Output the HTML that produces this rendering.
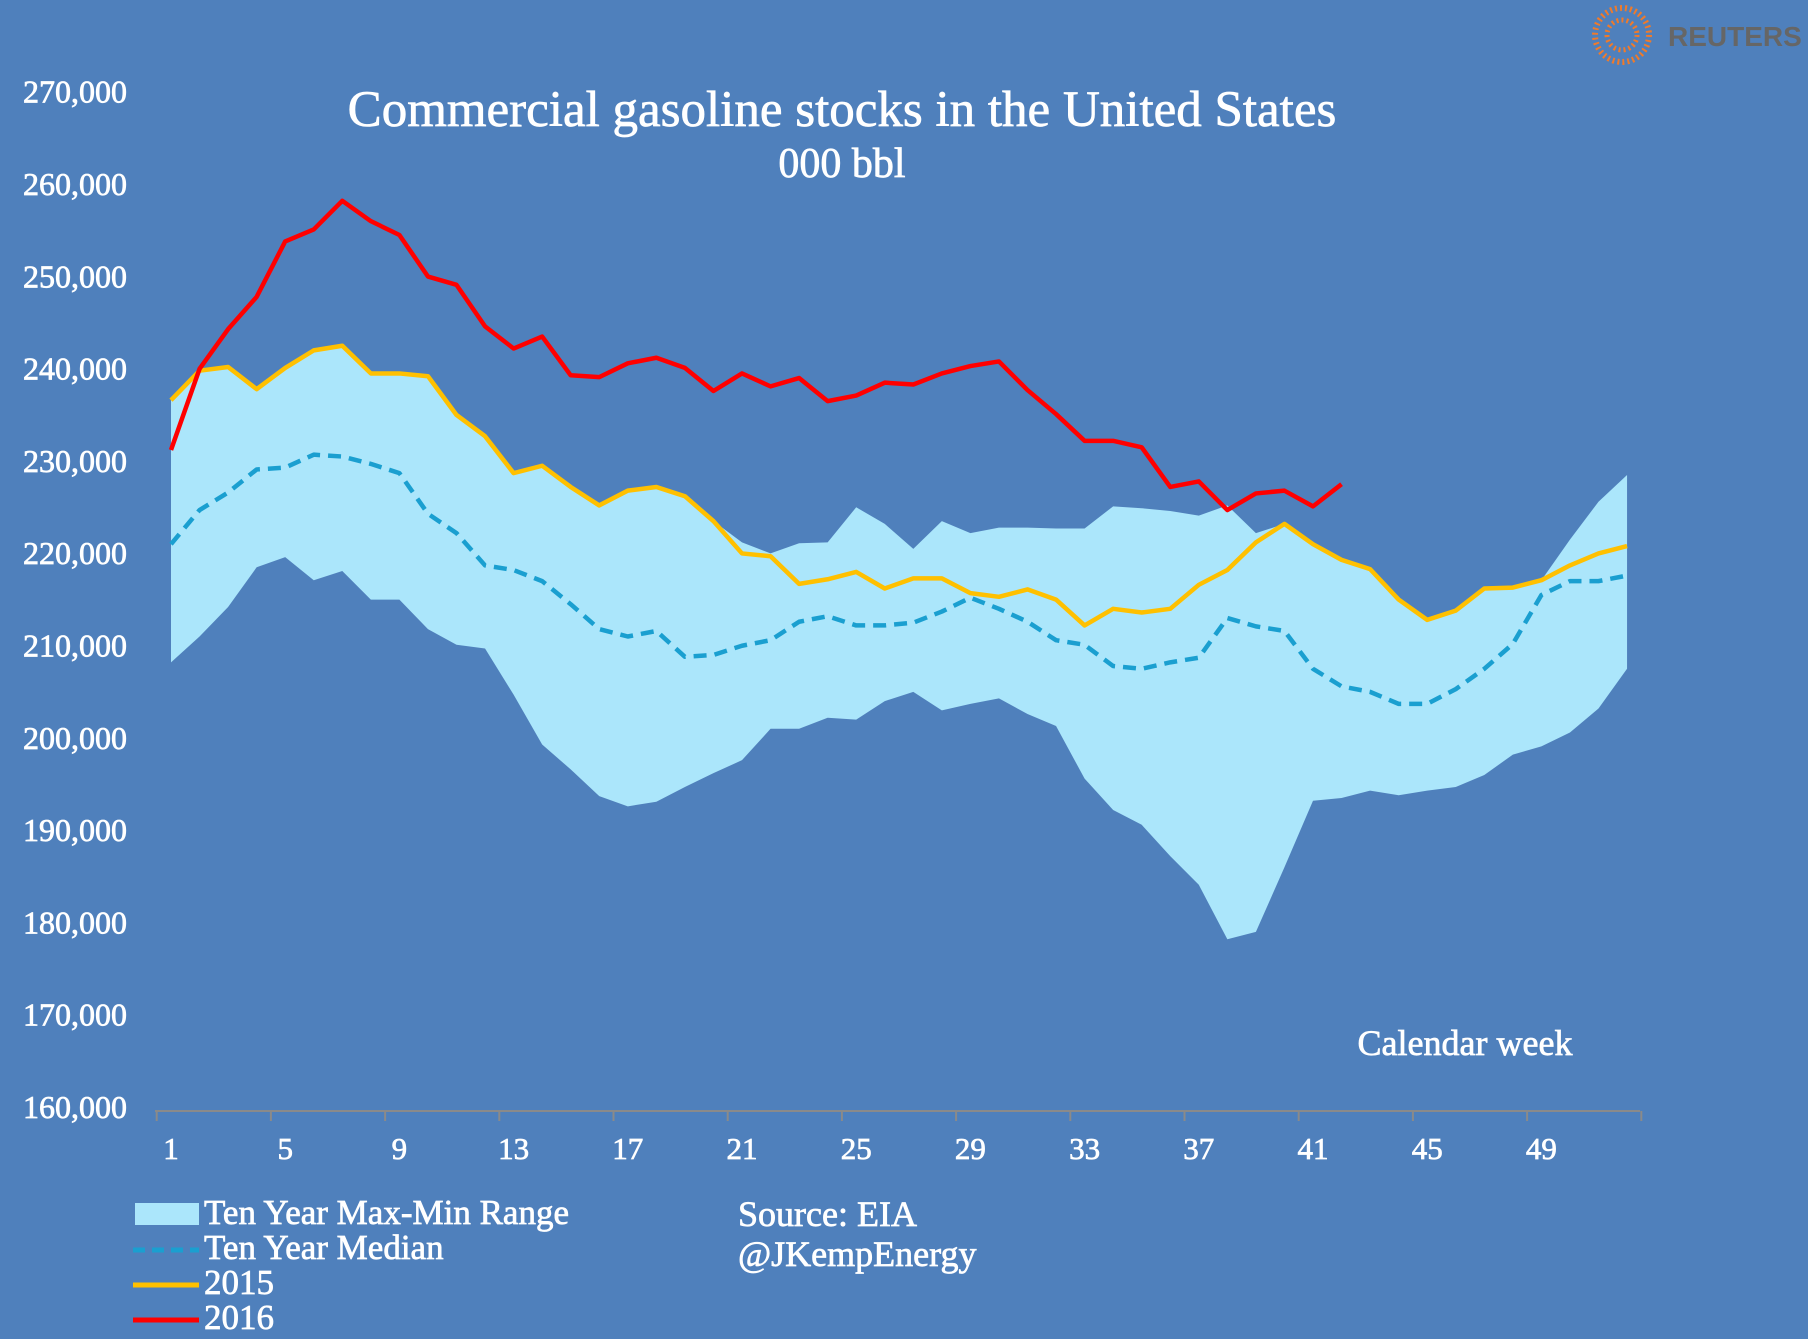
<!DOCTYPE html>
<html><head><meta charset="utf-8"><style>
body{margin:0;background:#4f80bc;}
svg{display:block}
text{font-family:"Liberation Serif",serif;fill:#fff;stroke:#fff;stroke-width:0.7}
</style></head><body>
<svg width="1808" height="1339" viewBox="0 0 1808 1339">
<rect width="1808" height="1339" fill="#4f80bc"/>
<g id="plot"></g>
<text x="842" y="126" font-size="51" text-anchor="middle">Commercial gasoline stocks in the United States</text>
<text x="842" y="177" font-size="42" text-anchor="middle">000 bbl</text>
<text x="1465" y="1055" font-size="36" text-anchor="middle">Calendar week</text>
<g>
<rect x="135" y="1203" width="64" height="22" fill="#abe6fb" stroke="none"/>
<text x="204" y="1224" font-size="35">Ten Year Max-Min Range</text>
<line x1="133" y1="1250" x2="199" y2="1250" stroke="#1a9fd0" stroke-width="5" stroke-dasharray="12,7"/>
<text x="204" y="1259" font-size="35">Ten Year Median</text>
<line x1="133" y1="1285" x2="199" y2="1285" stroke="#ffc000" stroke-width="5"/>
<text x="204" y="1294" font-size="35">2015</text>
<line x1="133" y1="1320" x2="199" y2="1320" stroke="#ff0000" stroke-width="5"/>
<text x="204" y="1329" font-size="35">2016</text>
</g>
<text x="738" y="1226" font-size="36">Source: EIA</text>
<text x="738" y="1266" font-size="36">@JKempEnergy</text>
<g>
<circle cx="1622" cy="35" r="27" fill="none" stroke="#f07a2a" stroke-width="6" stroke-dasharray="2,3"/>
<circle cx="1622" cy="35" r="15" fill="none" stroke="#f07a2a" stroke-width="5" stroke-dasharray="2,3"/>
<text x="1668" y="46" font-size="28" font-weight="bold" style="font-family:'Liberation Sans',sans-serif;fill:#666;stroke:none">REUTERS</text>
</g>
</svg>
<script>
const weeks=[];for(let i=1;i<=52;i++)weeks.push(i);
const rangeMax=[236.9,240.1,240.5,238.1,240.4,242.3,242.8,239.8,239.8,239.5,235.3,233.0,229.0,229.8,227.5,225.5,227.1,227.5,226.5,223.8,221.5,220.3,221.4,221.5,225.3,223.5,220.8,223.8,222.5,223.1,223.1,223.0,223.0,225.4,225.2,224.9,224.4,225.5,222.5,223.5,221.3,219.6,218.6,215.3,213.1,214.1,216.5,216.6,217.4,221.8,225.9,228.8];
const rangeMin=[208.5,211.3,214.5,218.8,219.9,217.4,218.4,215.3,215.3,212.1,210.4,210.0,205.0,199.6,196.9,194.0,192.9,193.4,195.0,196.5,197.9,201.3,201.3,202.5,202.3,204.3,205.3,203.3,204.0,204.6,202.9,201.6,195.9,192.5,190.9,187.5,184.4,178.5,179.3,186.3,193.5,193.8,194.6,194.1,194.6,195.0,196.3,198.5,199.4,200.9,203.5,207.8];
const median=[221.3,225.0,226.9,229.4,229.6,231.0,230.8,230.0,229.0,224.6,222.5,219.0,218.5,217.3,214.8,212.1,211.3,211.9,209.1,209.3,210.3,210.9,212.9,213.5,212.5,212.5,212.8,214.0,215.5,214.3,212.9,210.9,210.4,208.1,207.8,208.5,209.0,213.3,212.4,211.9,207.8,205.9,205.3,204.0,204.0,205.6,207.8,210.5,215.8,217.3,217.3,217.9];
const y2015=[236.9,240.1,240.5,238.1,240.4,242.3,242.8,239.8,239.8,239.5,235.3,233.0,229.0,229.8,227.5,225.5,227.1,227.5,226.5,223.8,220.3,220.0,217.0,217.5,218.3,216.5,217.6,217.6,216.0,215.6,216.4,215.3,212.5,214.3,213.9,214.3,216.9,218.5,221.5,223.5,221.3,219.6,218.6,215.3,213.1,214.1,216.5,216.6,217.4,219.0,220.3,221.1];
const y2016=[231.5,240.3,244.6,248.1,254.1,255.4,258.5,256.3,254.8,250.3,249.4,244.9,242.5,243.8,239.6,239.4,240.9,241.5,240.4,237.9,239.8,238.4,239.3,236.8,237.4,238.8,238.6,239.8,240.6,241.1,238.0,235.4,232.5,232.5,231.8,227.5,228.1,225.0,226.8,227.1,225.4,227.8];
const yTicks=[160,170,180,190,200,210,220,230,240,250,260,270];
const xTicks=[1,5,9,13,17,21,25,29,33,37,41,45,49];
const NS="http://www.w3.org/2000/svg";
const X=w=>171+(w-1)*28.55;
const Y=v=>1110-(v-160)*9.23;
const g=document.getElementById('plot');
function mk(t,a){const e=document.createElementNS(NS,t);for(const k in a)e.setAttribute(k,a[k]);g.appendChild(e);return e;}
const fmt=v=>v+",000";
let d=weeks.map((w,i)=>(i?'L':'M')+X(w)+','+Y(rangeMax[i])).join('');
for(let i=weeks.length-1;i>=0;i--)d+='L'+X(weeks[i])+','+Y(rangeMin[i]);
let e=mk('path',{d:d+'Z',fill:'#abe6fb'});


function line(arr,col,name,dash){
 const p=arr.map((v,i)=>(i?'L':'M')+X(weeks[i])+','+Y(v)).join('');
 const el=mk('path',{d:p,fill:'none',stroke:col,'stroke-width':4.5,'stroke-linejoin':'round'});
 if(dash)el.setAttribute('stroke-dasharray',dash);
 
 
}
line(median,'#1a9fd0','ten-year-median-line','13,8');
line(y2015,'#ffc000','line-2015');
line(y2016,'#ff0000','line-2016');
e=mk('line',{x1:155,x2:1640,y1:1111,y2:1111,stroke:'#8a8a8a','stroke-width':2});


for(let w=1;w<=53;w+=4){
 const tx=X(w)-14.3;
 e=mk('line',{x1:tx,x2:tx,y1:1111,y2:1121,stroke:'#8a8a8a','stroke-width':2});
 
 
}
xTicks.forEach(w=>{
 const t=mk('text',{x:X(w),y:1159,'font-size':31,'text-anchor':'middle'});t.textContent=w;
 
 
});
yTicks.forEach(v=>{
 const t=mk('text',{x:127,y:Y(v)+8,'font-size':32,'text-anchor':'end'});t.textContent=fmt(v);
 
 
});
</script>
</body></html>
